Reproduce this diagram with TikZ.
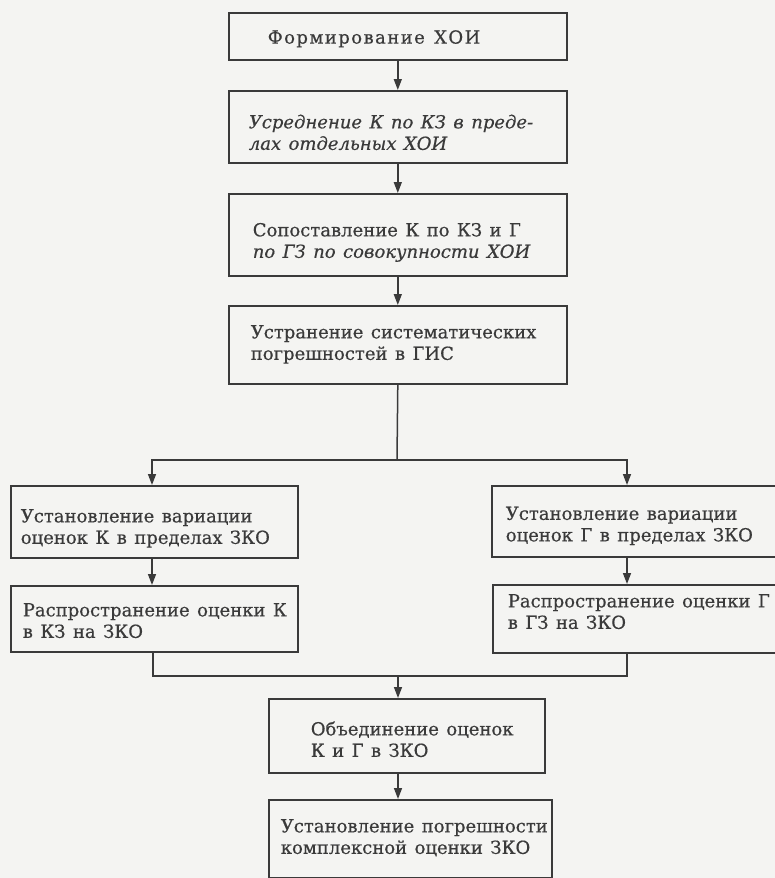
\documentclass[tikz,border=0pt]{standalone}
\usepackage{fontspec}
\setmainfont{DejaVu Serif}[FakeBold=0.5, WordSpace=1.3]
\usetikzlibrary{arrows.meta,calc}

\definecolor{paper}{RGB}{244,244,242}
\definecolor{ink}{RGB}{58,58,58}

% box content: fixed width, text pushed in from the left edge and shifted vertically
\newcommand{\padtext}[4]{\makebox[#1][l]{\hspace*{#2}\raisebox{#3}[\height][\depth]{\begin{tabular}{@{}l@{}}#4\end{tabular}}}}

\begin{document}
\begin{tikzpicture}[x=1pt,y=-1pt,
  stage/.style={draw=ink, line width=1.6pt, rectangle, inner sep=0pt,
    anchor=north west, text=ink,
    font=\fontsize{18}{21.5}\selectfont},
  link/.style={draw=ink, line width=1.5pt},
  arr/.style={link, -{Triangle[length=11pt,width=8pt]}}]

  \fill[paper] (0,0) rectangle (775,878);
  \useasboundingbox (0,0) rectangle (775,878);

  % main column
  \node[stage, minimum height=47pt] (b1) at (228,12)
    {\padtext{338pt}{39pt}{-3pt}{\addfontfeature{LetterSpace=8}Формирование ХОИ}};
  \node[stage, minimum height=72pt] (b2) at (228,90)
    {\padtext{338pt}{20pt}{-8pt}{\itshape Усреднение К по КЗ в преде-\\\itshape лах отдельных ХОИ}};
  \node[stage, minimum height=82pt] (b3) at (228,193)
    {\padtext{338pt}{24pt}{-8pt}{Сопоставление К по КЗ и Г\\\itshape по ГЗ по совокупности ХОИ}};
  \node[stage, minimum height=78pt] (b4) at (228,305)
    {\padtext{338pt}{22pt}{0pt}{Устранение систематических\\погрешностей в ГИС}};

  % left branch
  \node[stage, minimum height=72pt] (b5l) at (10,485)
    {\padtext{287pt}{10pt}{-7pt}{Установление вариации\\оценок К в пределах ЗКО}};
  \node[stage, minimum height=66pt] (b6l) at (10,585)
    {\padtext{287pt}{12pt}{-4pt}{Распространение оценки К\\в КЗ на ЗКО}};

  % right branch
  \node[stage, minimum height=71pt] (b5r) at (491,485)
    {\padtext{295pt}{14pt}{-5pt}{Установление вариации\\оценок Г в пределах ЗКО}};
  \node[stage, minimum height=68pt] (b6r) at (492,584)
    {\padtext{294pt}{15pt}{5pt}{Распространение оценки Г\\в ГЗ на ЗКО}};

  % merged part
  \node[stage, minimum height=74pt] (b7) at (268,698)
    {\padtext{276pt}{42pt}{-6pt}{Объединение оценок\\К и Г в ЗКО}};
  \node[stage, minimum height=78pt] (b8) at (268,799)
    {\padtext{283pt}{12pt}{0pt}{Установление погрешности\\комплексной оценки ЗКО}};

  \coordinate (split) at (397,460);
  \coordinate (join) at (398,676);

  \draw[arr] (b1.south) -- (b2.north);
  \draw[arr] (b2.south) -- (b3.north);
  \draw[arr] (b3.south) -- (b4.north);
  \draw[link] (b4.south) -- (split);
  \draw[arr] (split) -| ($(b5l.north west)+(142,0)$);
  \draw[arr] (split) -| ($(b5r.north west)+(136,0)$);
  \draw[arr] ($(b5l.south west)+(142,0)$) -- ($(b6l.north west)+(142,0)$);
  \draw[arr] ($(b5r.south west)+(136,0)$) -- ($(b6r.north west)+(135,0)$);
  \draw[link] ($(b6l.south west)+(143,0)$) |- (join);
  \draw[link] ($(b6r.south west)+(135,0)$) |- (join);
  \draw[arr] (join) -- (join |- b7.north);
  \draw[arr] (join |- b7.south) -- (join |- b8.north);
\end{tikzpicture}
\end{document}
